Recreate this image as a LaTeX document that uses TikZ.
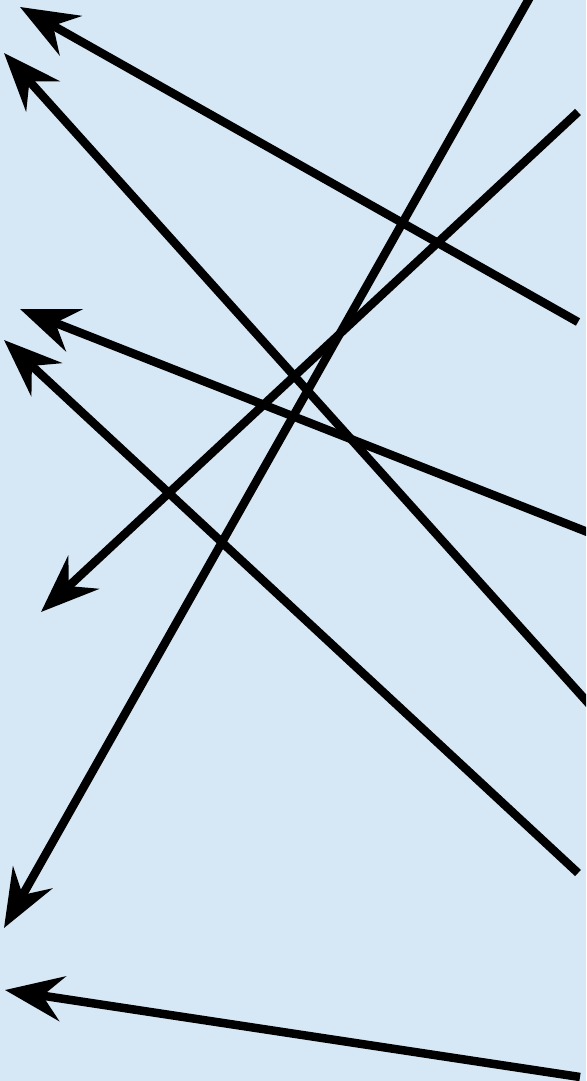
\documentclass[tikz,border=0pt]{standalone}
\usetikzlibrary{arrows.meta}
\definecolor{bgblue}{RGB}{214,232,245}
\tikzset{
  arr/.style={line width=8.5pt, draw=black, -{Stealth[length=58pt,width=45pt,inset=20pt]}}
}
\begin{document}
\begin{tikzpicture}[x=1pt,y=-1pt]
\fill[bgblue] (0,0) rectangle (586,1081);
\useasboundingbox (0,0) rectangle (586,1081);
\begin{scope}
\clip (0,0) rectangle (586,1081);
\coordinate (t1) at (578,322);  \coordinate (h1) at (20,7);
\coordinate (t2) at (590,705);  \coordinate (h2) at (4,53);
\coordinate (t3) at (534,-10);  \coordinate (h3) at (4,928);
\coordinate (t4) at (578,112);  \coordinate (h4) at (41,612);
\coordinate (t5) at (590,533);  \coordinate (h5) at (20,309);
\coordinate (t6) at (578,873);  \coordinate (h6) at (4,340);
\coordinate (t7) at (580,1077); \coordinate (h7) at (5,990);
\draw[arr] (t1) -- (h1);
\draw[arr] (t2) -- (h2);
\draw[arr] (t3) -- (h3);
\draw[arr] (t4) -- (h4);
\draw[arr] (t5) -- (h5);
\draw[arr] (t6) -- (h6);
\draw[arr] (t7) -- (h7);
\end{scope}
\end{tikzpicture}
\end{document}
